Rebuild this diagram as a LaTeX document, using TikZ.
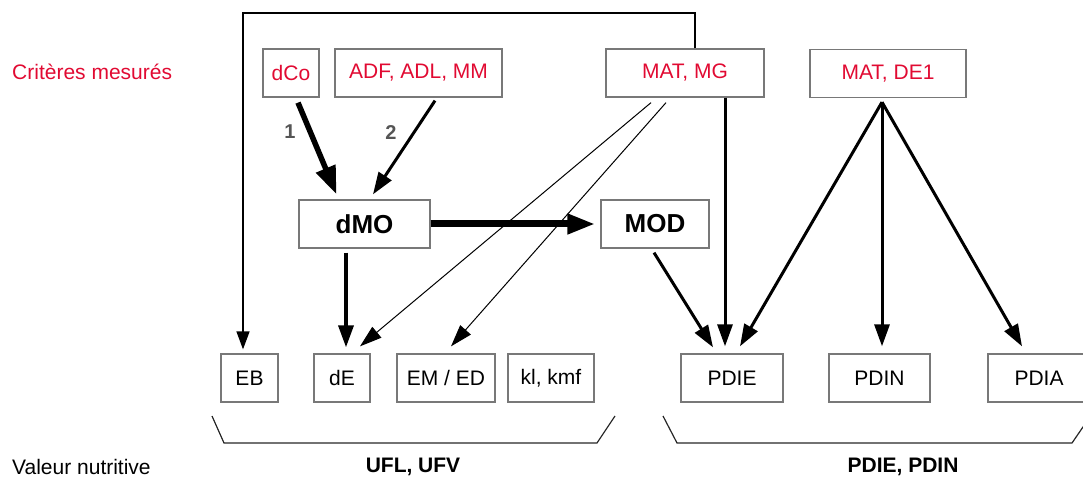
\documentclass[tikz,border=0pt]{standalone}
\usepackage{fontspec}
\setmainfont{Liberation Sans}
\usetikzlibrary{arrows.meta}
\definecolor{crit}{RGB}{225,10,50}
\definecolor{boxgray}{RGB}{120,120,120}
\definecolor{numgray}{RGB}{85,85,85}
\begin{document}
\begin{tikzpicture}[x=1pt,y=-1pt,
  box/.style={draw=boxgray, line width=1.3pt, minimum height=48pt, inner sep=0pt, font=\fontsize{21}{25}\selectfont},
  redbox/.style={box, text=crit},
  boldbox/.style={box, font=\fontsize{26}{30}\selectfont\bfseries},
  plaintext/.style={inner sep=0pt, font=\fontsize{21}{25}\selectfont},
  boldtext/.style={inner sep=0pt, font=\fontsize{21}{25}\selectfont\bfseries},
  numlabel/.style={inner sep=0pt, text=numgray, font=\fontsize{20}{24}\selectfont\bfseries},
  arr/.style={-{Triangle[length=22pt,width=15pt]}, line width=3pt},
  thinarr/.style={-{Triangle[length=22pt,width=14pt]}, line width=1pt},
  looparr/.style={-{Triangle[length=18pt,width=13pt]}, line width=1.5pt},
  heavyarr/.style={-{Triangle[length=28pt,width=20pt]}, line width=5.5pt},
  widearr/.style={-{Triangle[length=28pt,width=19pt]}, line width=7pt},
  bracket/.style={line width=1.2pt, draw=black!85}
]
\useasboundingbox (0,0) rectangle (1083,478);
\clip (0,0) rectangle (1083,478);

% left labels
\node[plaintext, text=crit, anchor=west] (crit) at (12,72) {Critères mesurés};
\node[plaintext, anchor=west] (valeur) at (12,467) {Valeur nutritive};

% top boxes
\node[redbox, minimum width=56pt] (dCo) at (291,73) {dCo};
\node[redbox, minimum width=167pt] (ADF) at (418.5,73) {ADF, ADL, MM};
\node[redbox, minimum width=158pt] (MATMG) at (685,73) {MAT, MG};
\node[redbox, minimum width=156pt] (MATDE) at (888,73.5) {MAT, DE1};

% middle boxes
\node[boldbox, minimum width=131pt] (dMO) at (364.5,224) {dMO};
\node[boldbox, minimum width=108pt] (MOD) at (655,224) {MOD};

% bottom boxes
\node[box, minimum width=57pt] (EB) at (249.5,378) {EB};
\node[box, minimum width=56pt] (dE) at (342,378) {dE};
\node[box, minimum width=98pt] (EMED) at (446,378) {EM / ED};
\node[box, minimum width=86pt] (kl) at (551,378) {kl, kmf};
\node[box, minimum width=102pt] (PDIE) at (732,378) {PDIE};
\node[box, minimum width=101pt] (PDIN) at (879.5,378) {PDIN};
\node[box, minimum width=102pt] (PDIA) at (1039,378) {PDIA};

% numbered labels
\node[numlabel] (n1) at (290,132) {1};
\node[numlabel] (n2) at (391,133) {2};

% connectors to dMO
\draw[heavyarr] ([xshift=7pt,yshift=-5pt]dCo.south) -- ([xshift=-28pt,yshift=5pt]dMO.north);
\draw[arr] ([xshift=16.5pt,yshift=-3pt]ADF.south) -- ([xshift=8.5pt,yshift=5pt]dMO.north);

% dMO -> MOD
\draw[widearr, shorten >=5pt] (dMO.east) -- (MOD.west);

% loop from MAT, MG to EB
\coordinate (loopTop) at (243,13);
\draw[looparr] ([xshift=10pt]MATMG.north) |- (loopTop) -- ([xshift=-6.5pt,yshift=4pt]EB.north);

% thin lines from MAT, MG
\draw[thinarr] ([xshift=-34pt,yshift=-5pt]MATMG.south) -- ([xshift=18pt,yshift=7pt]dE.north);
\draw[thinarr] ([xshift=-19pt,yshift=-5pt]MATMG.south) -- ([xshift=5pt,yshift=7pt]EMED.north);

% MAT, MG -> PDIE
\draw[arr] ([xshift=40pt]MATMG.south) -- ([xshift=-7pt,yshift=7pt]PDIE.north);

% dMO -> dE
\draw[arr, line width=3.5pt] ([xshift=-18.5pt,yshift=-4pt]dMO.south) -- ([xshift=4pt,yshift=6pt]dE.north);

% MOD -> PDIE
\draw[arr] ([xshift=-1pt,yshift=-4pt]MOD.south) -- ([xshift=-19pt,yshift=6pt]PDIE.north);

% MAT, DE1 fan
\draw[arr] ([xshift=-6pt,yshift=-4pt]MATDE.south) -- ([xshift=8pt,yshift=7pt]PDIE.north);
\draw[arr] ([xshift=-6pt,yshift=-4pt]MATDE.south) -- ([xshift=2.5pt,yshift=7pt]PDIN.north);
\draw[arr] ([xshift=-6pt,yshift=-4pt]MATDE.south) -- ([xshift=-17pt,yshift=7pt]PDIA.north);

% brackets
\draw[bracket] (212,416) -- (224,443) -- (597,443) -- (615,416);
\draw[bracket] (663,416) -- (677,443) -- (1072,443) -- (1090.5,416);

% bottom labels
\node[boldtext] (ufl) at (413,467) {UFL, UFV};
\node[boldtext] (pdie2) at (903,467) {PDIE, PDIN};
\end{tikzpicture}
\end{document}
